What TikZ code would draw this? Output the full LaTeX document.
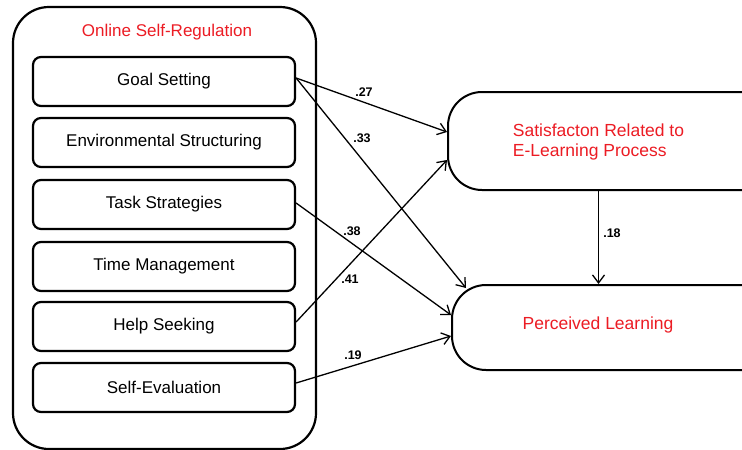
\documentclass[tikz,border=0pt]{standalone}
\usepackage{fontspec}
\setmainfont{Liberation Sans}
\usetikzlibrary{arrows.meta,calc}
\definecolor{tred}{RGB}{236,28,36}
\begin{document}
\begin{tikzpicture}[x=1pt,y=-1pt,
  item/.style={draw, line width=2.2pt, rounded corners=8pt, minimum width=262pt, minimum height=49pt, inner sep=0pt, font=\fontsize{17}{20}\selectfont},
  bigbox/.style={draw, line width=2pt, minimum width=340pt, inner sep=0pt},
  conn/.style={line width=1.3pt, -{Straight Barb[length=8pt,width=12pt,line width=1.3pt]}},
  coef/.style={font=\fontsize{12.5}{14}\selectfont\bfseries, inner sep=0pt},
  redtext/.style={text=tred, font=\fontsize{17.5}{20.5}\selectfont, inner sep=0pt}]
\useasboundingbox (0,0) rectangle (742,450);
\clip (0,0) rectangle (742,450);
\fill[white] (0,0) rectangle (742,450);
% outer group
\node[draw, line width=2.2pt, rounded corners=36pt, minimum width=303pt, minimum height=442pt, inner sep=0pt] (osr) at (164.5,228) {};
\node[redtext, font=\fontsize{17}{20}\selectfont] (title) at (167,32) {Online Self-Regulation};
\node[item] (goal) at (164,81.5) {Goal Setting};
\node[item] (env) at (164,142.5) {Environmental Structuring};
\node[item] (task) at (164,204.5) {Task Strategies};
\node[item] (time) at (164,266.5) {Time Management};
\node[item] (help) at (164,326.5) {Help Seeking};
\node[item] (selfev) at (164,387.5) {Self-Evaluation};
% outcome boxes
\node[bigbox, rounded corners=34pt, minimum height=98pt] (sat) at (618,141) {};
\node[redtext, align=left] (sattext) at (598.5,142) {Satisfacton Related to\\E-Learning Process};
\node[bigbox, rounded corners=34pt, minimum height=85pt] (pl) at (622,327.5) {};
\node[redtext] (pltext) at (598,325) {Perceived Learning};
% connectors
\draw[conn] ([yshift=3.5pt]goal.east) -- ([yshift=9pt]sat.west);
\draw[conn] ([yshift=3.5pt]goal.east) -- ([xshift=15pt,yshift=-4pt]pl.north west);
\draw[conn] ([yshift=1.5pt]task.east) -- ([yshift=12.5pt]pl.west);
\draw[conn] ([yshift=4.5pt]help.east) -- ([yshift=-19pt]sat.west);
\draw[conn] ([yshift=4.5pt]selfev.east) -- ([yshift=-8.5pt]pl.west);
\draw[conn] (sattext |- sat.south) -- (sattext |- pl.north);
% coefficients
\node[coef] (c27) at (364,92) {.27};
\node[coef] (c33) at (362,138) {.33};
\node[coef] (c38) at (352,231) {.38};
\node[coef] (c41) at (350,279) {.41};
\node[coef] (c19) at (353,355) {.19};
\node[coef] (c18) at (612,233) {.18};
\end{tikzpicture}
\end{document}
